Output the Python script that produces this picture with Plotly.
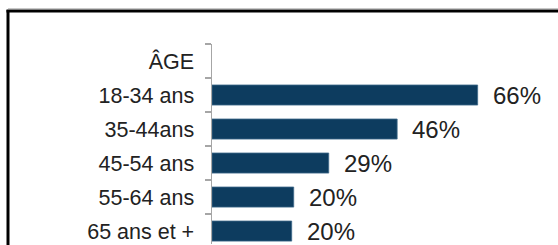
import plotly.graph_objects as go

categories = ["ÂGE", "18-34 ans", "35-44ans", "45-54 ans", "55-64 ans", "65 ans et +"]
values = [None, 66, 46, 29, 20.3, 19.8]
labels = ["", "66%", "46%", "29%", "20%", "20%"]

BAR_COLOR = "#0d3c5f"
TEXT_COLOR = "#222222"
FONT = "Liberation Sans, Arial, sans-serif"

W, H = 558, 245
ML, MR, MT, MB = 212, 24, 44, 1
PW = W - ML - MR
PH = H - MT - MB

fig = go.Figure()
fig.add_trace(go.Bar(
    y=categories, x=values, orientation="h",
    marker=dict(color=BAR_COLOR, line=dict(color="#3f6a8a", width=0.8)),
    hoverinfo="skip",
))

for c, v, t in zip(categories, values, labels):
    if v is None:
        continue
    fig.add_annotation(x=v, y=c, text=t, showarrow=False, xanchor="left",
                       xshift=13, font=dict(size=24, color=TEXT_COLOR, family=FONT))

# frame (pixel positions converted to paper coordinates)
def px_x(p):
    return (p - ML) / PW

def px_y(p):
    return 1 + (MT - p) / PH

fig.add_shape(type="line", xref="paper", yref="paper",
              x0=px_x(8), x1=px_x(600), y0=px_y(8.5), y1=px_y(8.5),
              line=dict(color="#c8c8c8", width=1))
fig.add_shape(type="line", xref="paper", yref="paper",
              x0=px_x(6.5), x1=px_x(600), y0=px_y(11), y1=px_y(11),
              line=dict(color="#000000", width=3))
fig.add_shape(type="line", xref="paper", yref="paper",
              x0=px_x(8), x1=px_x(8), y0=px_y(10), y1=px_y(260),
              line=dict(color="#000000", width=3))

fig.update_layout(
    width=W, height=H,
    margin=dict(l=ML, r=MR, t=MT, b=MB),
    plot_bgcolor="white", paper_bgcolor="white",
    bargap=0.41, showlegend=False,
    font=dict(family=FONT, color=TEXT_COLOR),
    xaxis=dict(range=[0, 80], visible=False, fixedrange=True),
    yaxis=dict(
        type="category", categoryorder="array", categoryarray=categories,
        range=[5.38, -0.5],
        showline=True, linecolor="#a6a6a6", linewidth=1.5,
        ticks="outside", tickson="boundaries", ticklen=6, tickcolor="#a6a6a6",
        tickwidth=1.5, ticklabelstandoff=12,
        tickfont=dict(size=21.5, color=TEXT_COLOR, family=FONT),
        showgrid=False, zeroline=False, fixedrange=True,
    ),
)

fig.write_html(
    "out.html",
    config={"displayModeBar": False, "staticPlot": True},
    post_script="document.body.style.margin='0';document.body.style.overflow='hidden';",
)
